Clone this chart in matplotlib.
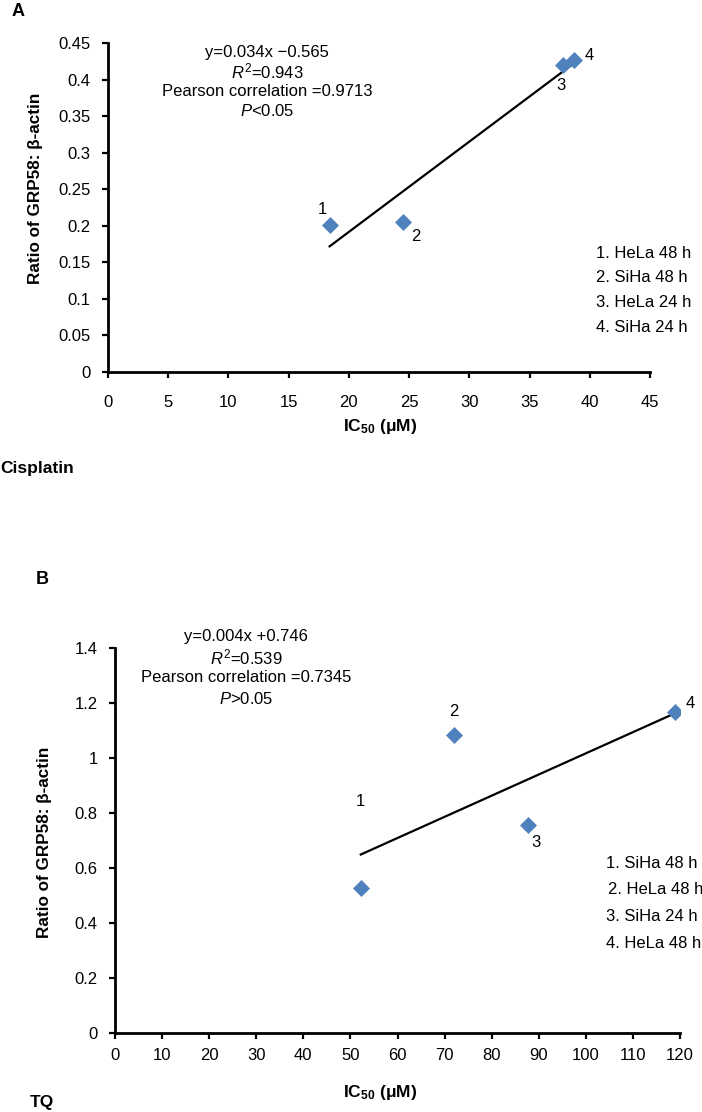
import numpy as np
import matplotlib
matplotlib.use("Agg")
import matplotlib.pyplot as plt

plt.rcParams['font.family'] = ['Liberation Sans', 'DejaVu Sans']
plt.rcParams['mathtext.fontset'] = 'custom'
plt.rcParams['mathtext.rm'] = 'Liberation Sans'
plt.rcParams['mathtext.it'] = 'Liberation Sans:italic'
plt.rcParams['mathtext.bf'] = 'Liberation Sans:bold'

# ---- Data ----
a_x = [18.4, 24.5, 37.8, 38.7]
a_y = [0.201, 0.205, 0.420, 0.427]
a_labels = ["1", "2", "3", "4"]
a_legend = ["1. HeLa 48 h", "2. SiHa 48 h", "3. HeLa 24 h", "4. SiHa 24 h"]
a_xticks = [0, 5, 10, 15, 20, 25, 30, 35, 40, 45]
a_yticks = [0, 0.05, 0.1, 0.15, 0.2, 0.25, 0.3, 0.35, 0.4, 0.45]
a_ytick_labels = ["0", "0.05", "0.1", "0.15", "0.2", "0.25", "0.3", "0.35", "0.4", "0.45"]
a_stats = ["y=0.034x \u22120.565", "$R^2$=0.943", "Pearson correlation =0.9713", "$P$<0.05"]

b_x = [52.2, 72.0, 87.7, 119.0]
b_y = [0.527, 1.085, 0.757, 1.167]
b_labels = ["1", "2", "3", "4"]
b_legend = ["1. SiHa 48 h", "2. HeLa 48 h", "3. SiHa 24 h", "4. HeLa 48 h"]
b_xticks = [0, 10, 20, 30, 40, 50, 60, 70, 80, 90, 100, 110, 120]
b_yticks = [0, 0.2, 0.4, 0.6, 0.8, 1.0, 1.2, 1.4]
b_ytick_labels = ["0", "0.2", "0.4", "0.6", "0.8", "1", "1.2", "1.4"]
b_stats = ["y=0.004x +0.746", "$R^2$=0.539", "Pearson correlation =0.7345", "$P$>0.05"]

W, H = 702, 1112
fig = plt.figure(figsize=(W / 100, H / 100), dpi=100)

def fx(x):
    return x / W

def fy(y):
    return 1 - y / H

def make_axes(l, t, r, b):
    return fig.add_axes([fx(l), fy(b), fx(r) - fx(l), fy(t) - fy(b)])

POINT_COLOR = "#4F81BD"
FS = 12

def style(ax, xlim, ylim, xticks, yticks, ylabels, xpad):
    ax.set_xlim(*xlim)
    ax.set_ylim(*ylim)
    ax.set_xticks(xticks)
    ax.set_yticks(yticks)
    ax.set_yticklabels(ylabels)
    for s in ["top", "right"]:
        ax.spines[s].set_visible(False)
    for s in ["left", "bottom"]:
        ax.spines[s].set_linewidth(2)
    ax.tick_params(direction="out", length=4.5, width=1.6, labelsize=FS)
    ax.tick_params(axis="x", pad=xpad)
    ax.tick_params(axis="y", pad=8)
    ax.patch.set_alpha(0)

def fit_line(ax, xs, ys):
    k, c = np.polyfit(xs, ys, 1)
    xx = np.array([min(xs), max(xs)])
    ax.plot(xx, k * xx + c, color="black", lw=1.6, zorder=2)

XLABEL = "IC$_{\\mathbf{50}}$ (\u03bcM)"
YLABEL = "Ratio of GRP58: \u03b2-actin"

# ---- Panel A ----
axA = make_axes(108, 43, 650, 372)
style(axA, (0, 45), (0, 0.45), a_xticks, a_yticks, a_ytick_labels, xpad=12)
fit_line(axA, a_x, a_y)
axA.scatter(a_x, a_y, marker="D", s=75, color=POINT_COLOR, zorder=3, linewidths=0)
a_offsets = [(-5, 11), (9, -10), (-2, -15), (11, 3)]
for lab, x, y, (dx, dy) in zip(a_labels, a_x, a_y, a_offsets):
    axA.annotate(lab, (x, y), xytext=(dx, dy), textcoords="offset points",
                 ha="center", va="center", fontsize=FS)
for i, t in enumerate(a_stats):
    fig.text(fx(267), fy(52 + i * 19.5), t, ha="center", va="center", fontsize=FS)
for i, t in enumerate(a_legend):
    fig.text(fx(596), fy(253 + i * 24.7), t, ha="left", va="center", fontsize=FS)
fig.text(fx(36), fy(188), YLABEL, rotation=90, ha="center", va="center",
         fontsize=12.3, fontweight="bold")
fig.text(fx(380), fy(426), XLABEL, ha="center", va="center",
         fontsize=12.5, fontweight="bold")
fig.text(fx(0), fy(468), "Cisplatin", ha="left", va="center", fontsize=12.5, fontweight="bold")
fig.text(fx(12), fy(11), "A", ha="left", va="center", fontsize=13, fontweight="bold")

# ---- Panel B ----
axB = make_axes(115, 648, 680, 1033)
style(axB, (0, 120), (0, 1.4), b_xticks, b_yticks, b_ytick_labels, xpad=6)
fit_line(axB, b_x, b_y)
axB.scatter(b_x, b_y, marker="D", s=75, color=POINT_COLOR, zorder=3, linewidths=0)
b_offsets = [(0, 62), (0, 17), (6, -13), (11, 6)]
for lab, x, y, (dx, dy) in zip(b_labels, b_x, b_y, b_offsets):
    axB.annotate(lab, (x, y), xytext=(dx, dy), textcoords="offset points",
                 ha="center", va="center", fontsize=FS)
for i, t in enumerate(b_stats):
    fig.text(fx(246), fy(637 + i * 20.5), t, ha="center", va="center", fontsize=FS)
for i, (t, xo) in enumerate(zip(b_legend, [606, 608, 606, 606])):
    fig.text(fx(xo), fy(863 + i * 26.7), t, ha="left", va="center", fontsize=FS)
fig.text(fx(45), fy(842), YLABEL, rotation=90, ha="center", va="center",
         fontsize=12.3, fontweight="bold")
fig.text(fx(380), fy(1092), XLABEL, ha="center", va="center",
         fontsize=12.5, fontweight="bold")
fig.text(fx(30), fy(1102), "TQ", ha="left", va="center", fontsize=12.5, fontweight="bold")
fig.text(fx(36), fy(580), "B", ha="left", va="center", fontsize=13, fontweight="bold")

fig.savefig("out.png", dpi=100)
